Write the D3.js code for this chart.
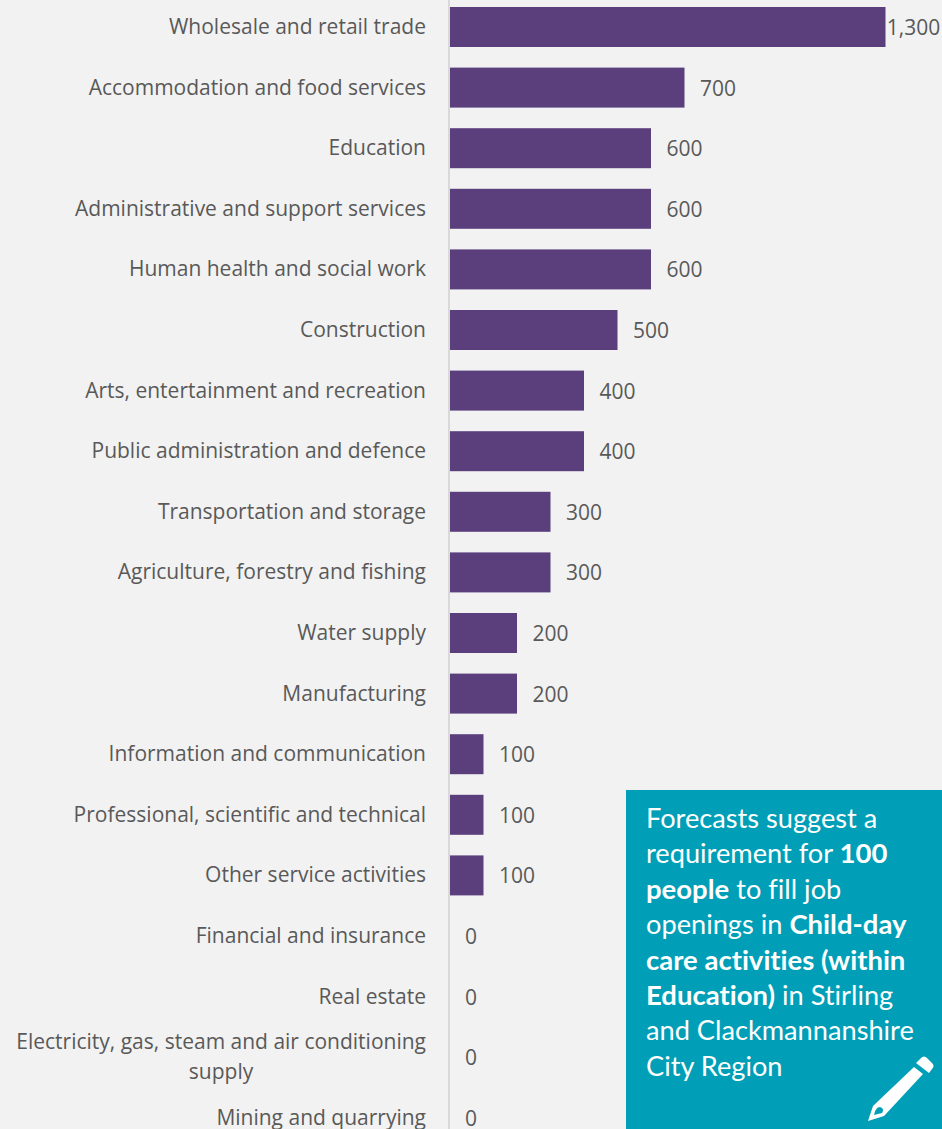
<!DOCTYPE html>
<html>
<head>
<meta charset="utf-8">
<script src="https://cdnjs.cloudflare.com/ajax/libs/d3/7.8.5/d3.min.js"></script>
<style>
html,body{margin:0;padding:0;background:#f2f2f2;overflow:hidden}
svg{display:block}
.cat,.val{font-family:"Open Sans",sans-serif;font-size:21px;fill:#595959}
.note{font-family:Lato,sans-serif;font-size:27.2px;fill:#fff;font-variant-ligatures:none}
.note .b{font-weight:700;font-size:27.5px}
</style>
</head>
<body>
<svg id="chart" width="942" height="1129"></svg>
<script>
// Forecast job openings by industry, Stirling and Clackmannanshire City Region
const categories = [
  "Wholesale and retail trade","Accommodation and food services","Education",
  "Administrative and support services","Human health and social work","Construction",
  "Arts, entertainment and recreation","Public administration and defence",
  "Transportation and storage","Agriculture, forestry and fishing","Water supply",
  "Manufacturing","Information and communication","Professional, scientific and technical",
  "Other service activities","Financial and insurance","Real estate",
  "Electricity, gas, steam and air conditioning supply","Mining and quarrying"
];
const values = [1300,700,600,600,600,500,400,400,300,300,200,200,100,100,100,0,0,0,0];
const wrappedLabels = {
  "Electricity, gas, steam and air conditioning supply":
    ["Electricity, gas, steam and air conditioning","supply"]
};
const noteLines = [
  [["Forecasts suggest a",0]],
  [["requirement for ",0],["100",1]],
  [["people",1],[" to fill job",0]],
  [["openings in ",0],["Child-day",1]],
  [["care activities (within",1]],
  [["Education)",1],[" in Stirling",0]],
  [["and Clackmannanshire",0]],
  [["City Region",0]]
];

const svg = d3.select("#chart");
const x = d3.scaleLinear().domain([0,1300]).range([450,885.5]);
const y = d3.scaleBand().domain(categories).range([-3.3,1148.1]).paddingInner(0.34).paddingOuter(0.17);

// vertical baseline
svg.append("line").attr("x1",x(0)-1).attr("x2",x(0)-1).attr("y1",0).attr("y2",1129)
  .attr("stroke","#d9d9d9").attr("stroke-width",2);

// bars
svg.selectAll("rect.bar").data(categories).join("rect").attr("class","bar")
  .attr("x",x(0)).attr("y",d=>y(d))
  .attr("width",(d,i)=>x(values[i])-x(0)).attr("height",y.bandwidth())
  .attr("fill","#5b3f7d");

// category labels, right aligned against the baseline
svg.selectAll("text.cat").data(categories).join("text").attr("class","cat")
  .each(function(d){
    const lines = wrappedLabels[d] || [d];
    const cy = y(d)+y.bandwidth()/2;
    const sel = d3.select(this);
    if(lines.length===1){
      sel.attr("text-anchor","end").attr("x",426).attr("y",cy+7).text(d);
    } else {
      sel.selectAll("tspan").data(lines).join("tspan")
        .attr("x",(l,i)=>i===0?426:221).attr("text-anchor",(l,i)=>i===0?"end":"middle")
        .attr("y",(l,i)=>cy-8.5+i*30).text(l=>l);
    }
  });

// value labels; the widest bar's label sits tight against its end
const labelX = v => v===0 ? x(0)+21 : v===1300 ? x(v)+28 : x(v)+33.5;
svg.selectAll("text.val").data(categories).join("text").attr("class","val")
  .attr("text-anchor","middle")
  .attr("x",(d,i)=>labelX(values[i]))
  .attr("y",d=>y(d)+y.bandwidth()/2+8)
  .text((d,i)=>d3.format(",")(values[i]));

// callout panel
svg.append("rect").attr("x",626).attr("y",790).attr("width",316).attr("height",339).attr("fill","#009fb7");
const note = svg.append("text").attr("class","note");
noteLines.forEach((line,i)=>{
  line.forEach(([t,b],j)=>{
    const s = note.append("tspan").attr("class",b?"b":null).text(t);
    if(j===0) s.attr("x",646).attr("y",828+i*35.4);
  });
});

// pencil icon
const pencil = svg.append("g").attr("fill","#fff");
pencil.append("path").attr("fill-rule","evenodd")
  .attr("d","M868 1121 L873 1106 L914 1067 L923 1074 L884 1116 Z M874 1115 L882 1113 C884 1110 883 1108 880 1107 C877 1107 875 1110 874 1115 Z");
pencil.append("path")
  .attr("d","M916 1063 L921 1058 C923 1056 925 1056 927 1058 L932 1063 C934 1065 934 1067 932 1069 L929 1073 Z");
</script>
</body>
</html>
